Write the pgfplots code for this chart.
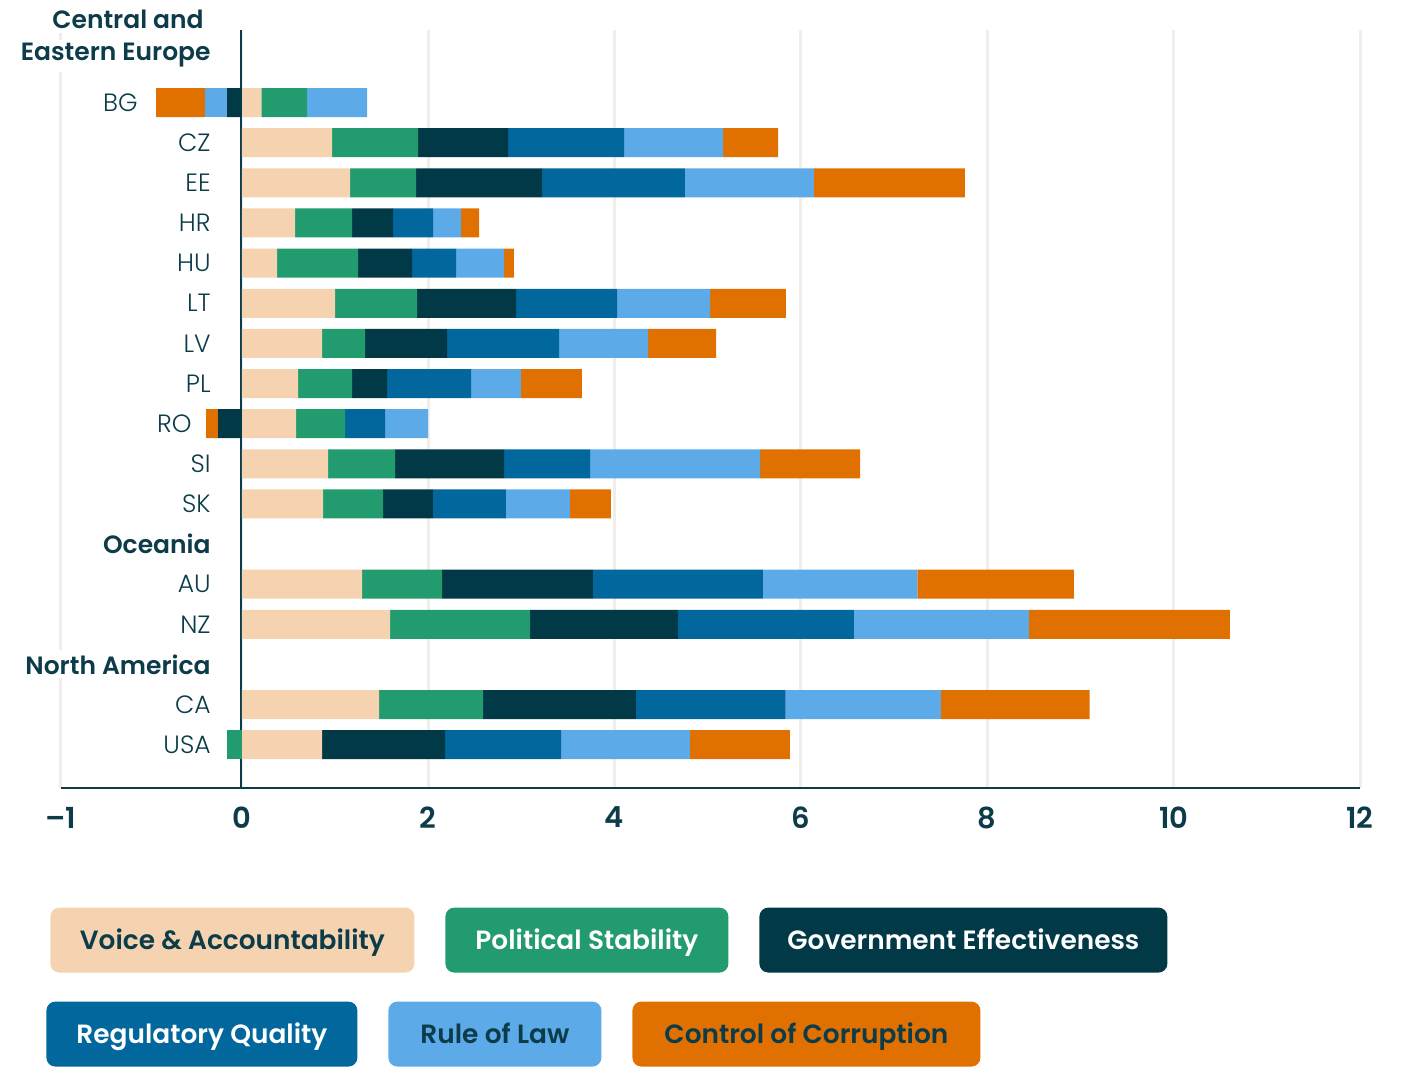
\documentclass[border=0pt]{standalone}
\usepackage{fontspec}
\setmainfont{Poppins}
\IfFontExistsTF{Poppins SemiBold}{\newfontfamily\semib{Poppins SemiBold}[Ligatures=TeX]}{\newcommand\semib{\bfseries}}
\IfFontExistsTF{Poppins Light}{\newfontfamily\lightf{Poppins Light}[Ligatures=TeX]}{\newcommand\lightf{}}
\usepackage{pgfplots}
\usepackage{pgfplotstable}
\pgfplotsset{compat=1.18}

\definecolor{va}{HTML}{F5D3B1}
\definecolor{ps}{HTML}{229B6E}
\definecolor{ge}{HTML}{023947}
\definecolor{rq}{HTML}{01679C}
\definecolor{rl}{HTML}{5DAAE9}
\definecolor{cc}{HTML}{E07000}
\definecolor{ink}{HTML}{0C3B49}
\definecolor{gridc}{HTML}{F1EDE8}

% negative parts (n..) stack left from 0, positive parts stack right from 0
\pgfplotstableread{
y  nps    nge    nrl    ncc    va    ps    ge    rq    rl    cc
1  0      -0.158 -0.236 -0.525 0.210 0.490 0     0     0.644 0
2  0      0      0      0      0.969 0.923 0.966 1.245 1.062 0.590
3  0      0      0      0      1.162 0.708 1.352 1.534 1.384 1.620
4  0      0      0      0      0.572 0.612 0.440 0.429 0.300 0.193
5  0      0      0      0      0.379 0.869 0.579 0.472 0.515 0.107
6  0      0      0      0      1.001 0.880 1.062 1.084 0.998 0.815
7  0      0      0      0      0.862 0.461 0.880 1.202 0.955 0.730
8  0      0      0      0      0.604 0.579 0.376 0.901 0.536 0.654
9  0      -0.254 0      -0.129 0.583 0.526 0     0.429 0.461 0
10 0      0      0      0      0.926 0.719 1.170 0.923 1.824 1.073
11 0      0      0      0      0.872 0.644 0.536 0.783 0.687 0.440
13 0      0      0      0      1.291 0.858 1.620 1.824 1.658 1.679
14 0      0      0      0      1.591 1.502 1.590 1.886 1.878 2.157
16 0      0      0      0      1.473 1.116 1.639 1.609 1.666 1.595
17 -0.158 0      0      0      0.862 0     1.320 1.245 1.382 1.073
}\data

\begin{document}
\begin{tikzpicture}
\useasboundingbox (0,0) rectangle (702.5pt,534pt);
\begin{axis}[
  at={(30.5pt,140pt)}, anchor=south west,
  scale only axis, width=649.5pt, height=379pt,
  xbar stacked, bar width=14.5pt,
  y dir=reverse,
  xmin=-1.94, xmax=12, ymin=-0.81, ymax=18.08,
  axis x line*=bottom, axis y line*=left,
  x axis line style={ink, line width=1.35pt, -},
  y axis line style={draw=none},
  xtick={-1.94,0,2,4,6,8,10,12},
  xticklabels={\textendash1,0,2,4,6,8,10,12},
  ytick={1,...,17},
  yticklabels={BG\rule{36.5pt}{0pt},CZ,EE,HR,HU,LT,LV,PL,RO\rule{9.5pt}{0pt},SI,SK,{\semib Oceania},AU,NZ,{\semib North America},CA,USA},
  major tick length=0pt,
  xmajorgrids, major grid style={gridc, line width=1.5pt},
  xticklabel style={font=\fontsize{14.5}{17}\selectfont\semib, text=ink, inner sep=0pt, anchor=north, yshift=-9.3pt},
  yticklabel style={font=\fontsize{12.5}{15}\selectfont\lightf, text=ink, inner xsep=0pt, inner ysep=2pt, anchor=east, xshift=75pt, fill=white},
]
\addplot[draw=none, fill=ps] table[x=nps, y=y] {\data};
\addplot[draw=none, fill=ge] table[x=nge, y=y] {\data};
\addplot[draw=none, fill=rl] table[x=nrl, y=y] {\data};
\addplot[draw=none, fill=cc] table[x=ncc, y=y] {\data};
\addplot[draw=none, fill=va] table[x=va, y=y] {\data};
\addplot[draw=none, fill=ps] table[x=ps, y=y] {\data};
\addplot[draw=none, fill=ge] table[x=ge, y=y] {\data};
\addplot[draw=none, fill=rq] table[x=rq, y=y] {\data};
\addplot[draw=none, fill=rl] table[x=rl, y=y] {\data};
\addplot[draw=none, fill=cc] table[x=cc, y=y] {\data};
\draw[ink, line width=1pt, xshift=-0.5pt] (axis cs:0,-0.81) -- (axis cs:0,18.08);
\end{axis}

% group header at the top
\begin{scope}[every node/.style={font=\fontsize{12.5}{15}\selectfont\semib, text=ink, fill=white, inner sep=2pt, anchor=base east}]
\node at (104pt,519.5pt) {Central and};
\node at (107.5pt,503.5pt) {Eastern Europe};
\end{scope}

% legend
\begin{scope}[every node/.style={rounded corners=4.5pt, minimum height=32.5pt, anchor=south west, inner sep=0pt, text height=9.4pt, text depth=0pt, font=\fontsize{13.2}{16}\selectfont\semib}]
\node[fill=va, text=ink, minimum width=182pt] at (25pt,47.5pt) {Voice \& Accountability};
\node[fill=ps, text=white, minimum width=141.5pt] at (222.5pt,47.5pt) {Political Stability};
\node[fill=ge, text=white, minimum width=204pt] at (379.5pt,47.5pt) {Government Effectiveness};
\node[fill=rq, text=white, minimum width=155.5pt] at (23pt,0.5pt) {Regulatory Quality};
\node[fill=rl, text=ink, minimum width=106.5pt] at (194pt,0.5pt) {Rule of Law};
\node[fill=cc, text=ink, minimum width=174pt] at (316pt,0.5pt) {Control of Corruption};
\end{scope}
\end{tikzpicture}
\end{document}
